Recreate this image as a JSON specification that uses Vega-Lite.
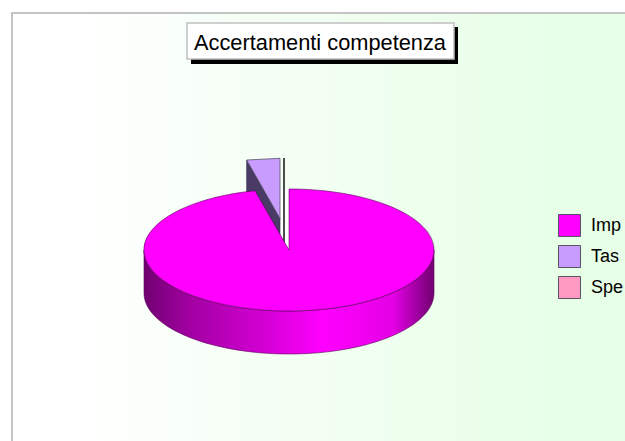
{
  "$schema": "https://vega.github.io/schema/vega-lite/v6.json",
  "width": 625,
  "height": 441,
  "padding": 0,
  "autosize": {"type": "none"},
  "background": "#ffffff",
  "config": {"view": {"stroke": null}},
  "title": {"text": "Accertamenti competenza", "anchor": "start", "frame": "group", "offset": 0, "dx": 194, "dy": 72, "baseline": "alphabetic", "font": "Liberation Sans", "fontSize": 21.8, "fontWeight": "normal", "color": "#000000", "zindex": 1},
  "data": {"values": [
    {"voce": "Imp", "valore": 96},
    {"voce": "Tas", "valore": 4},
    {"voce": "Spe", "valore": 0}
  ]},
  "layer": [
    {
      "transform": [{"filter": "datum.voce === 'Imp'"}],
      "mark": {"type": "point", "filled": true, "size": 4, "opacity": 1, "shape": "M-300.5,-207.5L330,-207.5L330,240L-300.5,240Z",
        "fill": {"gradient": "linear", "x1": 0, "y1": 0, "x2": 1, "y2": 0, "stops": [{"offset": 0, "color": "#ffffff"}, {"offset": 0.08, "color": "#ffffff"}, {"offset": 0.5, "color": "#f2fff2"}, {"offset": 0.9, "color": "#e6ffe6"}, {"offset": 1, "color": "#e6ffe6"}]}, "stroke": "#c4c4c4", "strokeWidth": 2}
    },
    {
      "transform": [{"filter": "datum.voce === 'Imp'"}],
      "mark": {"type": "point", "filled": true, "size": 4, "opacity": 1, "fill": "#000000", "stroke": null, "shape": "M-121.5,-193.5L145.5,-193.5L145.5,-156.5L-121.5,-156.5Z"}
    },
    {
      "transform": [{"filter": "datum.voce === 'Imp'"}],
      "mark": {"type": "point", "filled": true, "size": 4, "opacity": 1, "fill": "#ffffff", "stroke": "#c0c0c0", "strokeWidth": 1.5, "shape": "M-125.5,-197.5L141.5,-197.5L141.5,-161.5L-125.5,-161.5Z"}
    },
    {
      "transform": [{"filter": "datum.voce === 'Tas'"}],
      "mark": {"type": "point", "filled": true, "size": 4, "opacity": 1, "fill": "#ffffff", "stroke": null, "shape": "M-32.5,-31L-23.5,-31L-23.5,29.5L-32.5,20Z"}
    },
    {
      "transform": [{"filter": "datum.voce === 'Tas'"}],
      "mark": {"type": "point", "filled": true, "size": 4, "opacity": 1, "fill": "#000000", "stroke": null, "shape": "M-29.2,-62.5L-27.8,-62.5L-27.8,23L-29.2,21Z"}
    },
    {
      "transform": [{"filter": "datum.voce === 'Tas'"}],
      "mark": {"type": "point", "filled": true, "size": 4, "opacity": 1, "fill": "#4a3a66", "stroke": "#3a2f55", "strokeWidth": 0.7, "shape": "M-65.8,-60.5L-32.5,-2L-32.5,26L-65.8,-20Z"}
    },
    {
      "transform": [{"filter": "datum.voce === 'Imp'"}],
      "mark": {"type": "point", "filled": true, "size": 4, "opacity": 1, "stroke": "#5a005a", "strokeWidth": 0.6, "shape": "M-168.5,29.5L-168.5,72.5A145,61 0 0 0 121.5,72.5L121.5,29.5A145,61 0 0 1 -168.5,29.5Z",
        "fill": {"gradient": "linear", "x1": 0, "y1": 0, "x2": 1, "y2": 0, "stops": [{"offset": 0, "color": "#700070"}, {"offset": 0.15, "color": "#a000a0"}, {"offset": 0.4, "color": "#d000d0"}, {"offset": 0.62, "color": "#ff00ff"}, {"offset": 0.86, "color": "#e400e4"}, {"offset": 1, "color": "#700070"}]}}
    },
    {
      "transform": [{"filter": "datum.voce === 'Imp'"}],
      "mark": {"type": "point", "filled": true, "size": 4, "opacity": 1, "fill": "#ff00ff", "stroke": "#5a005a", "strokeWidth": 0.6, "shape": "M-23.5,-31.5A145,61 0 1 1 -57.5,-29.8L-23.5,29.5Z"}
    },
    {
      "transform": [{"filter": "datum.voce === 'Tas'"}],
      "mark": {"type": "point", "filled": true, "size": 4, "opacity": 1, "fill": "#c89cff", "stroke": "#555566", "strokeWidth": 0.8, "shape": "M-65.8,-60.5L-32.5,-62.2L-32.5,-2Z"}
    },
    {
      "mark": {"type": "point", "filled": true, "size": 0, "opacity": 1, "stroke": "#555566"},
      "encoding": {
        "color": {"field": "voce", "type": "nominal", "sort": null, "scale": {"domain": ["Imp", "Tas", "Spe"], "range": ["#ff00ff", "#c89cff", "#ff99c2"]},
          "legend": {"title": null, "orient": "none", "legendX": 558, "legendY": 214, "symbolType": "square", "symbolSize": 484, "symbolStrokeColor": "#555566", "symbolStrokeWidth": 1, "symbolOpacity": 1, "labelFont": "Liberation Sans", "labelFontSize": 18, "labelColor": "#000000", "labelOffset": 10, "rowPadding": 4, "padding": 0}}
      }
    }
  ]
}
